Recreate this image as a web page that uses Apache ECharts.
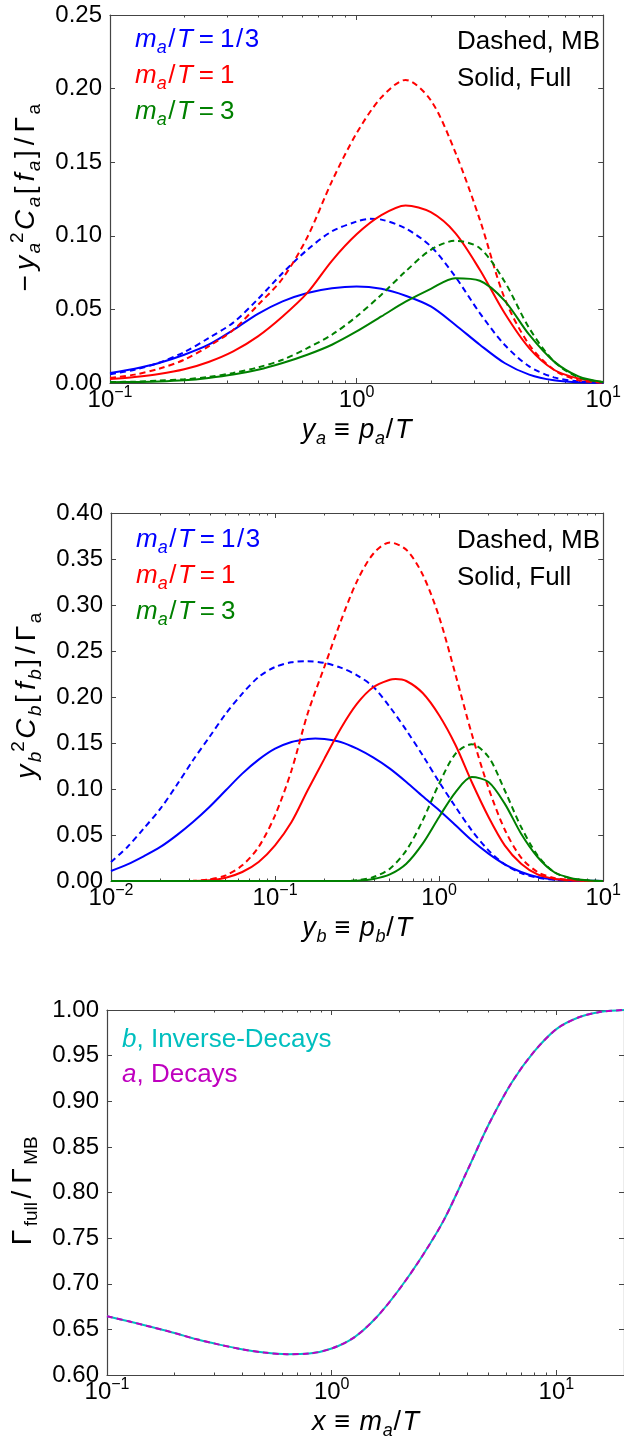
<!DOCTYPE html>
<html>
<head>
<meta charset="utf-8">
<title>Collision terms, MB vs full statistics</title>
<script src="https://cdn.jsdelivr.net/npm/echarts@6.0.0/dist/echarts.min.js"></script>
<style>
  html, body { margin: 0; padding: 0; background: #fff; }
  #main { width: 624px; height: 1441px; }
</style>
</head>
<body>
<div id="main"></div>
<script>
// ---- panel 1: -y_a^2 C_a[f_a] / Gamma_a  vs  y_a = p_a/T
var ya = [0.1, 0.126, 0.158, 0.2, 0.251, 0.316, 0.398, 0.501, 0.631, 0.794, 1,
  1.26, 1.58, 2, 2.51, 3.16, 3.98, 5.01, 6.31, 7.94, 10];
var aFullThird = [0.0068, 0.0097, 0.0136, 0.0192, 0.026, 0.036, 0.047, 0.0555, 0.0612, 0.0644, 0.0656,
  0.064, 0.0593, 0.052, 0.0396, 0.026, 0.0136, 0.0057, 0.0018, 0.0005, 0.0001];
var aMBThird = [0.006, 0.009, 0.0138, 0.021, 0.0305, 0.041, 0.057, 0.0747, 0.0905, 0.103, 0.1097,
  0.111, 0.105, 0.0928, 0.0724, 0.0475, 0.026, 0.0113, 0.0038, 0.0011, 0.0002];
var aMBThirdPeak = [1.13, 0.1115];
var aFullOne = [0.0027, 0.0041, 0.0061, 0.0093, 0.0143, 0.0215, 0.0317, 0.0452, 0.0612, 0.083, 0.101,
  0.114, 0.1206, 0.116, 0.102, 0.0769, 0.0475, 0.0237, 0.009, 0.003, 0.0005];
var aMBOne = [0.0034, 0.0057, 0.0097, 0.0158, 0.0249, 0.036, 0.053, 0.071, 0.099, 0.137, 0.1697,
  0.194, 0.2059, 0.192, 0.157, 0.111, 0.0577, 0.026, 0.009, 0.0018, 0.0002];
var aFullThree = [0.0005, 0.0007, 0.001, 0.0018, 0.0034, 0.0057, 0.009, 0.0136, 0.0192, 0.026, 0.035,
  0.0452, 0.0552, 0.064, 0.0712, 0.0695, 0.056, 0.0328, 0.0147, 0.0045, 0.0007];
var aMBThree = [0.0007, 0.0009, 0.0016, 0.0025, 0.0041, 0.0068, 0.0106, 0.0158, 0.0237, 0.0328, 0.0452,
  0.06, 0.0758, 0.0905, 0.0966, 0.0916, 0.069, 0.0373, 0.0147, 0.0038, 0.0005];

// ---- panel 2: y_b^2 C_b[f_b] / Gamma_a  vs  y_b = p_b/T
var yb = [0.01, 0.0126, 0.0158, 0.02, 0.0251, 0.0316, 0.0398, 0.0501, 0.0631, 0.0794, 0.1,
  0.126, 0.158, 0.2, 0.251, 0.316, 0.398, 0.501, 0.631, 0.794, 1,
  1.26, 1.58, 2, 2.51, 3.16, 3.98, 5.01, 6.31, 7.94, 10];
var bFullThird = [0.0109, 0.0181, 0.0268, 0.037, 0.0496, 0.0641, 0.0804, 0.0986, 0.1167, 0.1319, 0.1438,
  0.1511, 0.1543, 0.1543, 0.1511, 0.1438, 0.134, 0.1221, 0.1076, 0.092, 0.0768,
  0.0605, 0.0442, 0.0297, 0.0181, 0.0098, 0.0043, 0.0018, 0.0007, 0.0003, 0.0001];
var bFullThirdPeak = [0.176, 0.1548];
var bMBThird = [0.0207, 0.037, 0.0569, 0.0786, 0.104, 0.1312, 0.1565, 0.1819, 0.2036, 0.2217, 0.2326,
  0.2377, 0.2388, 0.237, 0.2319, 0.2236, 0.2109, 0.1891, 0.1638, 0.1366, 0.1076,
  0.0804, 0.0551, 0.0333, 0.0181, 0.0087, 0.0036, 0.0014, 0.0004, 0.0001, 0];
var bFullOne = [0, 0, 0, 0, 0, 0, 0.0007, 0.0036, 0.0098, 0.0207, 0.0388,
  0.0641, 0.0986, 0.133, 0.1656, 0.1928, 0.2109, 0.2188, 0.2174, 0.2043, 0.1801,
  0.1475, 0.1076, 0.0696, 0.0388, 0.0188, 0.0072, 0.0025, 0.0007, 0.0001, 0];
var bFullOnePeak = [0.543, 0.2195];
var bMBOne = [0, 0, 0, 0, 0, 0.0002, 0.0018, 0.0062, 0.017, 0.037, 0.0714,
  0.1203, 0.182, 0.233, 0.282, 0.326, 0.356, 0.368, 0.36, 0.333, 0.287,
  0.224, 0.16, 0.101, 0.056, 0.0254, 0.0098, 0.0033, 0.0011, 0.0002, 0];
var bFullThree = [0, 0, 0, 0, 0, 0, 0, 0, 0, 0, 0,
  0, 0, 0, 0, 0.0004, 0.0022, 0.0072, 0.0188, 0.0406, 0.0696,
  0.0967, 0.113, 0.1076, 0.0841, 0.0514, 0.0261, 0.0098, 0.0033, 0.0007, 0];
var bMBThree = [0, 0, 0, 0, 0, 0, 0, 0, 0, 0, 0,
  0, 0, 0, 0, 0.0007, 0.0043, 0.0134, 0.0333, 0.0659, 0.1058,
  0.1384, 0.1486, 0.1348, 0.0986, 0.0587, 0.0279, 0.0098, 0.0029, 0.0007, 0];

// ---- panel 3: Gamma_full / Gamma_MB  vs  x = m_a/T
var xm = [0.1, 0.126, 0.158, 0.2, 0.251, 0.316, 0.398, 0.501, 0.631, 0.794, 1,
  1.26, 1.58, 2, 2.51, 3.16, 3.98, 5.01, 6.31, 7.94, 10, 12.6, 15.8, 20];
var rateInvDecays = [0.6644, 0.6586, 0.6525, 0.646, 0.6391, 0.6333, 0.6282, 0.6246, 0.6228, 0.6235, 0.629,
  0.6413, 0.663, 0.694, 0.729, 0.77, 0.822, 0.875, 0.92, 0.954, 0.979, 0.992, 0.998, 1.0];
var rateDecays = [0.6644, 0.6586, 0.6525, 0.646, 0.6391, 0.6333, 0.6282, 0.6246, 0.6228, 0.6235, 0.629,
  0.6413, 0.663, 0.694, 0.729, 0.77, 0.822, 0.875, 0.92, 0.954, 0.979, 0.992, 0.998, 1.0];

var FONT = "'Liberation Sans', Arial, Helvetica, sans-serif";
var AX = "#444";
var BLUE = "#0000ff", RED = "#ff0000", GREEN = "#008000", CYAN = "#00bfbf", MAGENTA = "#bf00bf";

// rich styles for mathtext-like strings (size = main glyphs, pad = gap round main pieces)
function mathRich(color, size, pad) {
  var lh = Math.round(size * 1.3), ss = Math.round(size * 0.68);
  function st(extra) {
    var o = { fontFamily: FONT, color: color, fontSize: size, lineHeight: lh, padding: [0, pad] };
    for (var k in extra) o[k] = extra[k];
    return o;
  }
  return {
    i: st({ fontStyle: "italic" }),
    r: st({}),
    sl: st({ padding: [0, pad + 1.5] }),
    eq: st({ padding: [0, pad + 6] }),
    sub: st({ fontSize: ss, lineHeight: ss, verticalAlign: "bottom", fontStyle: "italic", padding: [0, 0] }),
    subr: st({ fontSize: ss, lineHeight: ss, verticalAlign: "bottom", padding: [0, 0] }),
    sup: st({ fontSize: ss, lineHeight: ss, verticalAlign: "top", padding: [0, 0] })
  };
}

var powRich = {
  b: { fontSize: 24, lineHeight: 30, fontFamily: FONT, color: "#000" },
  s: { fontSize: 16, lineHeight: 16, verticalAlign: "top", fontFamily: FONT, color: "#000" }
};
function powLabel(v) {
  var e = Math.round(Math.log10(v));
  return "{b|10}{s|" + (e < 0 ? "\u2212" + (-e) : e) + "}";
}

function decadeMinors(lo, hi) {
  var out = [];
  for (var e = lo; e < hi; e++) {
    for (var m = 2; m <= 9; m++) out.push(+(m * Math.pow(10, e)).toPrecision(3));
  }
  return out;
}

// four x axes per panel: bottom major (labels), bottom minor, top major, top minor
function logXAxes(grid, min, max, majors, minors, name, gap) {
  function ax(pos, ticks, len, main) {
    return {
      type: "log", logBase: 10, gridIndex: grid, min: min, max: max, position: pos,
      axisLine: { show: main, onZero: false, lineStyle: { color: AX, width: 1.2 } },
      axisTick: { show: true, inside: true, length: len, customValues: ticks, lineStyle: { color: AX, width: 1 } },
      axisLabel: { show: main && pos === "bottom", customValues: majors, formatter: powLabel, rich: powRich, margin: 2 },
      splitLine: { show: false },
      name: (main && pos === "bottom") ? name : "",
      nameLocation: "middle", nameGap: gap,
      nameTextStyle: { rich: mathRich("#000", 27, 0.8) }
    };
  }
  return [
    ax("bottom", majors, 5, true),
    ax("bottom", minors, 2.5, false),
    ax("top", majors, 5, true),
    ax("top", minors, 2.5, false)
  ];
}

function linYAxes(grid, min, max, name, gap, pad) {
  function ax(pos) {
    return {
      type: "value", gridIndex: grid, min: min, max: max, interval: 0.05, position: pos,
      axisLine: { show: true, lineStyle: { color: AX, width: 1.2 } },
      axisTick: { show: true, inside: true, length: 5, lineStyle: { color: AX } },
      axisLabel: {
        show: pos === "left", margin: 8, fontSize: 24, fontFamily: FONT, color: "#000",
        formatter: function (v) { return v.toFixed(2); }
      },
      splitLine: { show: false },
      name: pos === "left" ? name : "",
      nameLocation: "middle", nameGap: gap, nameRotate: 90,
      nameTextStyle: { rich: mathRich("#000", 28, pad) }
    };
  }
  return [ax("left"), ax("right")];
}

// pair up x/y samples; an optional [x, y] peak reading is slotted in by x
function points(xs, ys, peak) {
  var pts = xs.map(function (x, i) { return [x, ys[i]]; });
  if (peak) {
    pts.push(peak);
    pts.sort(function (p, q) { return p[0] - q[0]; });
  }
  return pts;
}

function curve(data, color, dashed, xi, yi) {
  return {
    type: "line", xAxisIndex: xi, yAxisIndex: yi,
    data: data,
    showSymbol: false, smooth: 0.3, silent: true,
    lineStyle: { color: color, width: 2, type: dashed ? [6, 4] : "solid" },
    itemStyle: { color: color }
  };
}

function note(x, y, text, color) {
  return {
    type: "text", x: x, y: y, silent: true,
    style: {
      text: text, rich: mathRich(color, 26, 0), fill: color,
      fontSize: 26, fontFamily: FONT, align: "left", verticalAlign: "middle"
    }
  };
}

var maLegend = [
  "{i|m}{sub|a}{sl|/}{i|T}{eq|=}{r|1}{sl|/}{r|3}",
  "{i|m}{sub|a}{sl|/}{i|T}{eq|=}{r|1}",
  "{i|m}{sub|a}{sl|/}{i|T}{eq|=}{r|3}"
];

var xAxes = []
  .concat(logXAxes(0, 0.1, 10, [0.1, 1, 10], decadeMinors(-1, 1),
    "{i|y}{sub|a}{r| \u2261 }{i|p}{sub|a}{r|/}{i|T}", 30))
  .concat(logXAxes(1, 0.01, 10, [0.01, 0.1, 1, 10], decadeMinors(-2, 1),
    "{i|y}{sub|b}{r| \u2261 }{i|p}{sub|b}{r|/}{i|T}", 30))
  .concat(logXAxes(2, 0.1, 20, [0.1, 1, 10], decadeMinors(-1, 1),
    "{i|x}{r| \u2261 }{i|m}{sub|a}{r|/}{i|T}", 30));

var yAxes = []
  .concat(linYAxes(0, 0, 0.25,
    "{r|\u2212}{i|y}{sub|a}{sup|2}{i|C}{sub|a}{r|[}{i|f}{sub|a}{r|]}{r|/}{r|\u0393}{subr|a}", 60, 2.5))
  .concat(linYAxes(1, 0, 0.4,
    "{i|y}{sub|b}{sup|2}{i|C}{sub|b}{r|[}{i|f}{sub|b}{r|]}{r|/}{r|\u0393}{subr|a}", 60, 2.5))
  .concat(linYAxes(2, 0.6, 1.0,
    "{r|\u0393}{subr|full}{r|/}{r|\u0393}{subr|MB}", 60, 3.5));

var series = [
  curve(points(ya, aMBThird, aMBThirdPeak), BLUE, true, 0, 0),
  curve(points(ya, aFullThird), BLUE, false, 0, 0),
  curve(points(ya, aMBOne), RED, true, 0, 0),
  curve(points(ya, aFullOne), RED, false, 0, 0),
  curve(points(ya, aMBThree), GREEN, true, 0, 0),
  curve(points(ya, aFullThree), GREEN, false, 0, 0),

  curve(points(yb, bMBThird), BLUE, true, 4, 2),
  curve(points(yb, bFullThird, bFullThirdPeak), BLUE, false, 4, 2),
  curve(points(yb, bMBOne), RED, true, 4, 2),
  curve(points(yb, bFullOne, bFullOnePeak), RED, false, 4, 2),
  curve(points(yb, bMBThree), GREEN, true, 4, 2),
  curve(points(yb, bFullThree), GREEN, false, 4, 2),

  curve(points(xm, rateInvDecays), CYAN, false, 8, 4),
  curve(points(xm, rateDecays), MAGENTA, true, 8, 4)
];

var chart = echarts.init(document.getElementById("main"), null, { renderer: "canvas" });
chart.setOption({
  backgroundColor: "#fff",
  animation: false,
  grid: [
    { left: 110, top: 15, width: 497, height: 368 },
    { left: 111, top: 513, width: 496, height: 368 },
    { left: 107, top: 1010, width: 518, height: 368 }
  ],
  xAxis: xAxes,
  yAxis: yAxes,
  series: series,
  graphic: [
    note(135, 40, maLegend[0], BLUE),
    note(135, 76, maLegend[1], RED),
    note(135, 112, maLegend[2], GREEN),
    note(457, 42, "{r|Dashed, MB}", "#000"),
    note(457, 79, "{r|Solid, Full}", "#000"),

    note(136, 540, maLegend[0], BLUE),
    note(136, 576, maLegend[1], RED),
    note(136, 612, maLegend[2], GREEN),
    note(457, 541, "{r|Dashed, MB}", "#000"),
    note(457, 578, "{r|Solid, Full}", "#000"),

    note(122, 1040, "{i|b}{r|, Inverse-Decays}", CYAN),
    note(122, 1075, "{i|a}{r|, Decays}", MAGENTA)
  ]
});
</script>
</body>
</html>
